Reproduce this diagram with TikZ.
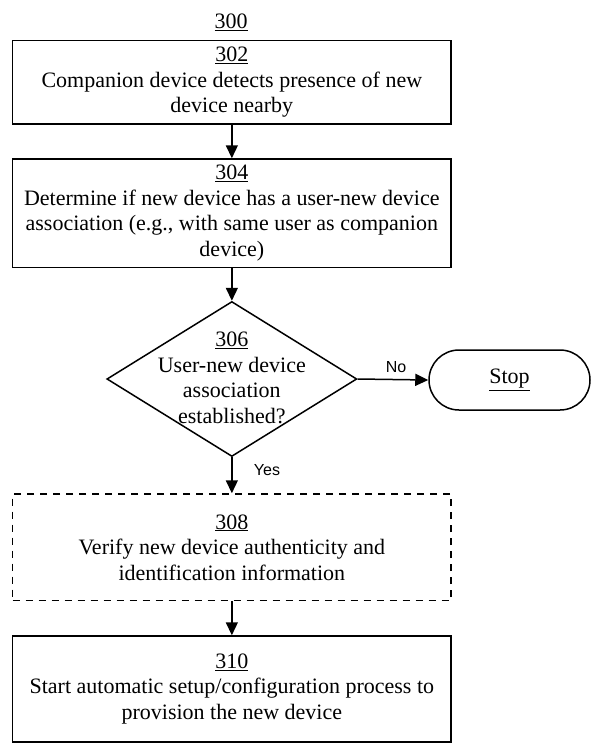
\documentclass[tikz,border=0pt]{standalone}
\usepackage{fontspec}
\setmainfont{Liberation Serif}
\newfontfamily\labelfont{Liberation Sans}
\usetikzlibrary{shapes.geometric,arrows.meta}
\begin{document}
\begin{tikzpicture}[x=1pt,y=-1pt,
  every node/.style={font=\fontsize{22}{25.5}\selectfont},
  stepbox/.style={draw,line width=1.5pt,rectangle,minimum width=438.3pt,inner sep=0pt,align=center},
  optbox/.style={stepbox,dashed,dash pattern=on 7.5pt off 5.5pt},
  decision/.style={draw,line width=1.5pt,diamond,minimum width=250pt,minimum height=155pt,inner sep=0pt},
  terminal/.style={draw,line width=1.5pt,rectangle,rounded corners=30pt,minimum width=161pt,minimum height=60pt,inner sep=0pt},
  flow/.style={line width=1.5pt,-{Triangle[width=12pt,length=13pt]}},
  branch/.style={font=\labelfont\fontsize{16}{18}\selectfont,inner sep=0pt}]
\useasboundingbox (0,0) rectangle (594,744);
\node (title) at (231,22) {\underline{300}};
\node[stepbox,minimum height=83.3pt] (n302) at (231.85,82.35)
  {\underline{302}\\Companion device detects presence of new\\device nearby};
\node[stepbox,minimum height=108.5pt] (n304) at (231.85,213.25)
  {\underline{304}\\Determine if new device has a user-new device\\association (e.g., with same user as companion\\device)};
\node[decision] (n306) at (231.85,379) {};
\node[align=center,inner sep=0pt] (t306) at (231.85,378) {\underline{306}\\User-new device\\association\\established?};
\node[terminal] (stop) at (509.5,380) {\underline{Stop}};
\node[optbox,minimum height=106.7pt] (n308) at (231.85,547.35)
  {\underline{308}\\Verify new device authenticity and\\identification information};
\node[stepbox,minimum height=106pt] (n310) at (231.85,689)
  {\underline{310}\\Start automatic setup/configuration process to\\provision the new device};
\draw[flow] (n302.south) -- (n304.north);
\draw[flow] (n304.south) -- (n306.north);
\draw[flow] (n306.east) -- (stop.west);
\draw[flow] (n306.south) -- (n308.north);
\draw[flow] (n308.south) -- (n310.north);
\node[branch] (no) at (396,367) {No};
\node[branch] (yes) at (267,470) {Yes};
\end{tikzpicture}
\end{document}
